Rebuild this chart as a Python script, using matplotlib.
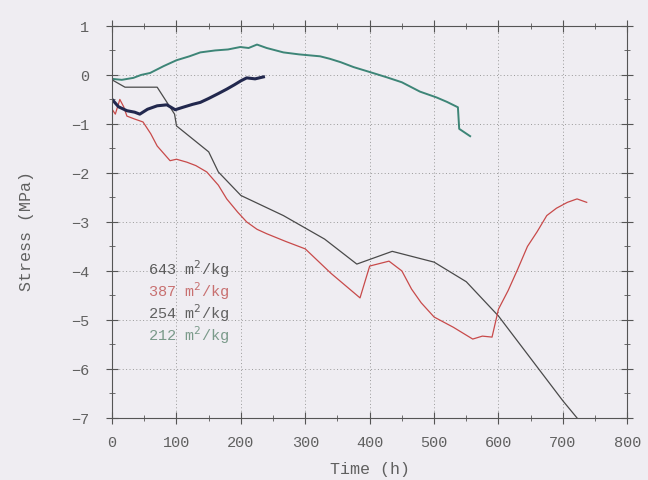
import matplotlib
matplotlib.use("Agg")
import matplotlib.pyplot as plt
from matplotlib.ticker import MultipleLocator

# 643 m2/kg
t643 = [0, 20, 70, 97, 100, 150, 165, 200, 266, 330, 380, 435, 500, 550, 600, 700, 722]
s643 = [-0.1, -0.25, -0.25, -0.8, -1.04, -1.57, -1.98, -2.46, -2.87, -3.35, -3.86, -3.6, -3.82, -4.22, -4.92, -6.65, -7.0]

# 387 m2/kg
t387 = [0, 5, 12, 18, 23, 35, 48, 60, 70, 80, 90, 100, 116, 130, 147, 165, 178, 195, 209, 225, 240,
        270, 300, 340, 385, 400, 415, 430, 450, 465, 480, 500, 530, 560, 575, 590, 600, 615, 630,
        645, 660, 675, 690, 707, 722, 737]
s387 = [-0.7, -0.8, -0.5, -0.65, -0.84, -0.9, -0.96, -1.2, -1.45, -1.6, -1.75, -1.72, -1.78, -1.85, -1.98,
        -2.25, -2.53, -2.8, -3.0, -3.15, -3.24, -3.4, -3.55, -4.05, -4.55, -3.9, -3.85, -3.8, -4.0, -4.37,
        -4.65, -4.94, -5.15, -5.39, -5.33, -5.35, -4.78, -4.4, -3.96, -3.5, -3.2, -2.87, -2.72, -2.6,
        -2.53, -2.6]

# 254 m2/kg
t254 = [0, 10, 23, 35, 43, 55, 70, 85, 98, 110, 125, 137, 150, 165, 178, 190, 200, 209, 222, 235]
s254 = [-0.5, -0.65, -0.73, -0.76, -0.8, -0.7, -0.63, -0.61, -0.71, -0.66, -0.6, -0.56, -0.48, -0.38,
        -0.29, -0.2, -0.12, -0.06, -0.08, -0.04]

# 212 m2/kg
t212 = [0, 15, 33, 45, 59, 80, 100, 120, 137, 160, 180, 199, 212, 225, 240, 266, 290, 323, 338, 355,
        375, 400, 427, 450, 478, 504, 520, 537, 539, 556]
s212 = [-0.08, -0.1, -0.06, 0.0, 0.04, 0.18, 0.3, 0.38, 0.46, 0.5, 0.52, 0.57, 0.55, 0.62, 0.55, 0.46,
        0.42, 0.38, 0.33, 0.26, 0.16, 0.06, -0.05, -0.15, -0.34, -0.46, -0.55, -0.66, -1.1, -1.25]

labels = ["643 m$^2$/kg", "387 m$^2$/kg", "254 m$^2$/kg", "212 m$^2$/kg"]
line_colors = ["#4a4a4a", "#c84a4a", "#22284e", "#3d8577"]
text_colors = ["#5a5a5a", "#c87070", "#606060", "#7a9a8a"]

plt.rcParams["font.family"] = ["Liberation Mono", "DejaVu Sans"]
bg = "#efedf2"
fig = plt.figure(figsize=(6.48, 4.81), dpi=100, facecolor=bg)
ax = fig.add_axes([0.173, 0.129, 0.795, 0.815], facecolor=bg)

ax.plot(t643, s643, color=line_colors[0], lw=0.9)
ax.plot(t387, s387, color=line_colors[1], lw=0.9)
ax.plot(t254, s254, color=line_colors[2], lw=2.2)
ax.plot(t212, s212, color=line_colors[3], lw=1.4)

ax.set_xlim(0, 800)
ax.set_ylim(-7, 1)
ax.xaxis.set_major_locator(MultipleLocator(100))
ax.xaxis.set_minor_locator(MultipleLocator(50))
ax.yaxis.set_major_locator(MultipleLocator(1))
ax.yaxis.set_minor_locator(MultipleLocator(0.5))
ax.tick_params(which="both", direction="inout", top=True, right=True, color="#555555",
               labelsize=11, labelcolor="#606060")
ax.tick_params(which="major", length=9)
ax.tick_params(which="minor", length=5)
ax.tick_params(axis="y", which="major", pad=12)
ax.tick_params(axis="x", which="major", pad=8)
ax.grid(True, which="major", linestyle=(0, (1, 2.5)), color="#999999", lw=0.7)
for sp in ax.spines.values():
    sp.set_color("#555555")
ax.set_xlabel("Time (h)", fontsize=12, color="#606060")
ax.set_ylabel("Stress (MPa)", fontsize=12, color="#606060")
ax.xaxis.set_label_coords(0.5, -0.11)
ax.yaxis.set_label_coords(-0.152, 0.48)

for i, (lab, c) in enumerate(zip(labels, text_colors)):
    ax.text(55, -3.95 - i * 0.45, lab, color=c, fontsize=11, va="center")

fig.savefig("out.png", dpi=100, facecolor=bg)
